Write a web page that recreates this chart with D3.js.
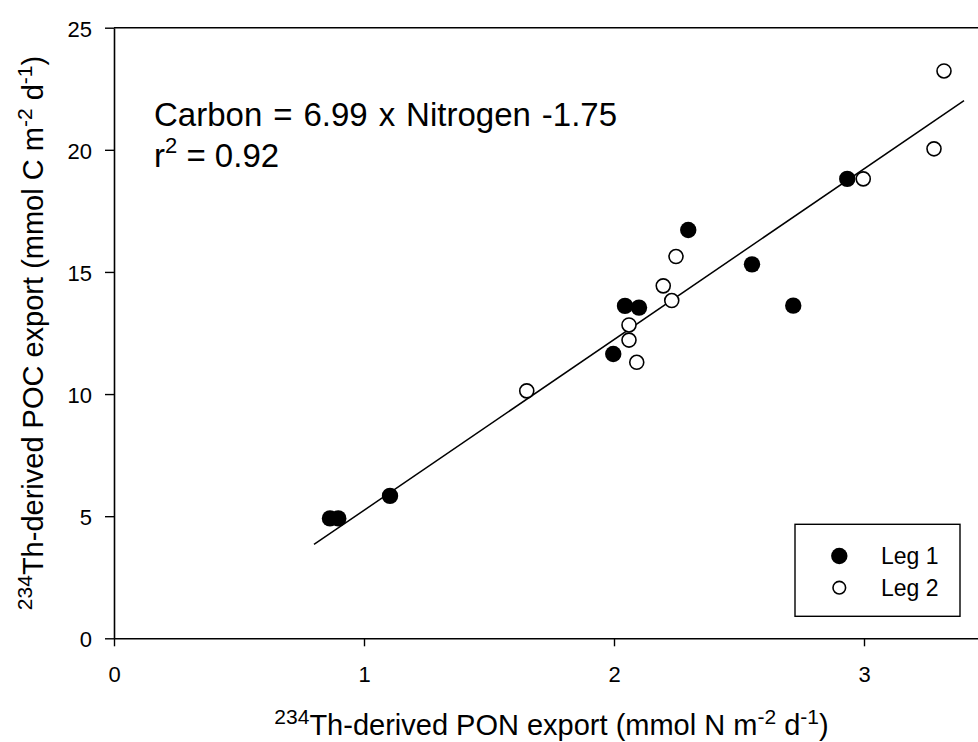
<!DOCTYPE html>
<html>
<head>
<meta charset="utf-8">
<script src="https://cdn.jsdelivr.net/npm/d3@7"></script>
<style>
  html, body { margin: 0; padding: 0; background: #fff; overflow: hidden; }
  svg { display: block; font-family: "Liberation Sans", Arial, sans-serif; }
</style>
</head>
<body>
<svg id="chart" width="978" height="742"></svg>
<script>
// Leg 1 stations (filled symbols)
const leg1PON = [0.864, 0.897, 1.104, 1.997, 2.044, 2.100, 2.297, 2.552, 2.717, 2.933];
const leg1POC = [4.91, 4.91, 5.83, 11.64, 13.61, 13.54, 16.72, 15.31, 13.62, 18.81];
// Leg 2 stations (open symbols)
const leg2PON = [1.651, 2.060, 2.060, 2.091, 2.197, 2.231, 2.248, 2.997, 3.280, 3.320];
const leg2POC = [10.13, 12.83, 12.21, 11.30, 14.43, 13.83, 15.63, 18.81, 20.04, 23.23];

// Linear regression of carbon on nitrogen
const fitSlope = 6.99;
const fitIntercept = -1.75;
const fitRange = [0.8, 3.4];
const r2 = 0.92;

const xTicks = [0, 1, 2, 3];
const yTicks = [0, 5, 10, 15, 20, 25];
const legendLabels = ["Leg 1", "Leg 2"];

const svg = d3.select("#chart");
const plotLeft = 114, plotTop = 27.7, plotBottom = 638.3;
const x = d3.scaleLinear().domain([0, 3.5]).range([plotLeft, plotLeft + 3.5 * 250]);
const y = d3.scaleLinear().domain([0, 25]).range([plotBottom, plotTop]);

// Axes
const xAxis = d3.axisBottom(x).tickValues(xTicks).tickFormat(d3.format("d")).tickSize(8).tickSizeOuter(0).tickPadding(0);
const gx = svg.append("g").attr("transform", `translate(0,${plotBottom})`).call(xAxis);
gx.select(".domain").attr("stroke", "#000").attr("stroke-width", 1.6);
gx.selectAll(".tick line").attr("stroke", "#000").attr("stroke-width", 1.4);
gx.selectAll(".tick text").attr("font-size", 22).attr("fill", "#000").attr("y", 44).attr("dy", 0);

const yAxis = d3.axisLeft(y).tickValues(yTicks).tickFormat(d3.format("d")).tickSize(9).tickSizeOuter(0).tickPadding(0);
const gy = svg.append("g").attr("transform", `translate(${plotLeft},0)`).call(yAxis);
gy.select(".domain").attr("stroke", "#000").attr("stroke-width", 1.6);
gy.selectAll(".tick line").attr("stroke", "#000").attr("stroke-width", 1.4);
gy.selectAll(".tick text").attr("font-size", 22).attr("fill", "#000").attr("x", -22).attr("dy", 0).attr("y", 8.5);

// Top frame line
svg.append("line").attr("x1", plotLeft).attr("x2", x(3.5)).attr("y1", y(25)).attr("y2", y(25))
  .attr("stroke", "#000").attr("stroke-width", 1.6);

// Regression line
svg.append("line")
  .attr("x1", x(fitRange[0])).attr("y1", y(fitSlope * fitRange[0] + fitIntercept))
  .attr("x2", x(fitRange[1])).attr("y2", y(fitSlope * fitRange[1] + fitIntercept))
  .attr("stroke", "#000").attr("stroke-width", 1.5);

// Points
const leg1 = leg1PON.map((n, i) => ({ n, c: leg1POC[i] }));
const leg2 = leg2PON.map((n, i) => ({ n, c: leg2POC[i] }));
svg.append("g").selectAll("circle").data(leg2).join("circle")
  .attr("cx", d => x(d.n)).attr("cy", d => y(d.c)).attr("r", 7)
  .attr("fill", "#fff").attr("stroke", "#000").attr("stroke-width", 1.6);
svg.append("g").selectAll("circle").data(leg1).join("circle")
  .attr("cx", d => x(d.n)).attr("cy", d => y(d.c)).attr("r", 8.2)
  .attr("fill", "#000");

// Regression equation
const eq = svg.append("g").attr("font-size", 33).attr("fill", "#000");
eq.append("text").attr("x", 154).attr("y", 125.7).attr("word-spacing", 1.8)
  .text(`Carbon = ${fitSlope} x Nitrogen ${fitIntercept}`);
const r2t = eq.append("text").attr("x", 154).attr("y", 167.3);
r2t.append("tspan").text("r");
r2t.append("tspan").attr("font-size", 22).attr("dy", -14).text("2");
r2t.append("tspan").attr("dy", 14).text(` = ${r2}`);

// Legend
const lg = svg.append("g");
lg.append("rect").attr("x", 795).attr("y", 524.3).attr("width", 165).attr("height", 92)
  .attr("fill", "#fff").attr("stroke", "#000").attr("stroke-width", 1.4);
lg.append("circle").attr("cx", 839.3).attr("cy", 556).attr("r", 8.2).attr("fill", "#000");
lg.append("circle").attr("cx", 839.3).attr("cy", 587.7).attr("r", 6.3)
  .attr("fill", "#fff").attr("stroke", "#000").attr("stroke-width", 1.6);
lg.selectAll("text.lab").data(legendLabels).join("text").attr("class", "lab")
  .attr("x", 881).attr("y", (d, i) => 564.3 + i * 31.4)
  .attr("font-size", 23).attr("fill", "#000").text(d => d);

// Axis titles with superscripted isotope and unit exponents
function title(sel, parts) {
  parts.forEach(p => {
    const t = sel.append("tspan").text(p.t);
    if (p.sup) t.attr("font-size", 21).attr("dy", p.dy);
    else if (p.dy) t.attr("dy", p.dy);
  });
}
const xt = svg.append("text").attr("x", x(1.75)).attr("y", 735)
  .attr("text-anchor", "middle").attr("font-size", 29).attr("fill", "#000");
title(xt, [
  { t: "234", sup: true, dy: -11 }, { t: "Th-derived PON export (mmol N m", dy: 11 },
  { t: "-2", sup: true, dy: -11 }, { t: " d", dy: 11 },
  { t: "-1", sup: true, dy: -11 }, { t: ")", dy: 11 }
]);
const yt = svg.append("text").attr("transform", `translate(43,${(plotTop + plotBottom) / 2}) rotate(-90)`)
  .attr("text-anchor", "middle").attr("font-size", 29).attr("fill", "#000");
title(yt, [
  { t: "234", sup: true, dy: -11 }, { t: "Th-derived POC export (mmol C m", dy: 11 },
  { t: "-2", sup: true, dy: -11 }, { t: " d", dy: 11 },
  { t: "-1", sup: true, dy: -11 }, { t: ")", dy: 11 }
]);
</script>
</body>
</html>
